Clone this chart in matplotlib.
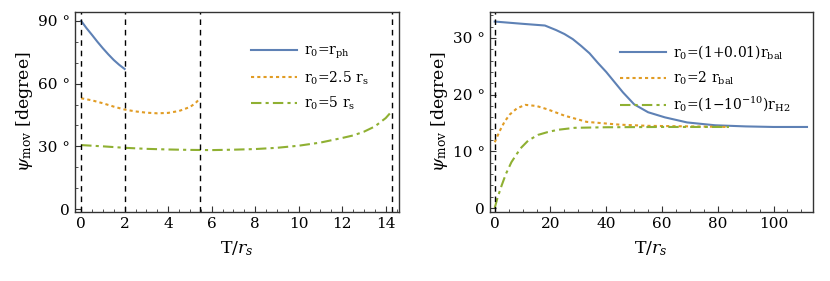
import numpy as np
import matplotlib
matplotlib.use("Agg")
import matplotlib.pyplot as plt
from matplotlib.ticker import MultipleLocator, FuncFormatter

plt.rcParams['font.family'] = ['DejaVu Serif']
plt.rcParams['mathtext.fontset'] = 'dejavuserif'

blue = '#5E81B5'
orange = '#E19C24'
green = '#8FB032'

# left panel data
x_ph = [0, 0.25, 0.5, 0.75, 1.0, 1.25, 1.5, 1.75, 2.0]
y_ph = [90, 86.5, 83.3, 80.0, 76.9, 74.0, 71.3, 69.0, 67.0]
x_25 = [0, 0.5, 1.0, 1.5, 2.0, 2.5, 3.0, 3.5, 4.0, 4.5, 5.0, 5.25, 5.47]
y_25 = [53.0, 52.0, 50.6, 49.0, 47.6, 46.7, 46.1, 45.8, 46.0, 46.9, 48.8, 50.6, 53.0]
x_5 = [0, 1, 2, 3, 4, 5, 6, 7, 8, 9, 10, 11, 12, 12.5, 13, 13.5, 14, 14.3]
y_5 = [30.6, 30.0, 29.3, 28.8, 28.5, 28.3, 28.2, 28.4, 28.7, 29.3, 30.3, 31.8, 34.0, 35.2, 37.0, 39.5, 43.5, 47.0]
vlines_left = [0, 2.0, 5.47, 14.3]

# right panel data
x_bal = [0, 5, 10, 18, 22, 25, 28, 31, 34, 37, 40, 43, 46, 50, 55, 61, 69, 79, 90, 100, 112]
y_bal = [32.9, 32.7, 32.5, 32.2, 31.4, 30.7, 29.8, 28.6, 27.3, 25.6, 24.0, 22.2, 20.4, 18.3, 16.9, 16.0, 15.1, 14.6, 14.4, 14.3, 14.3]
x_2bal = [0, 1.8, 3.5, 5.4, 8, 11, 15, 19, 25, 33, 45, 55, 70, 84]
y_2bal = [11.6, 13.6, 15.2, 16.5, 17.6, 18.2, 18.0, 17.4, 16.3, 15.2, 14.7, 14.5, 14.4, 14.3]
x_h2 = [0, 1, 2.5, 4, 6, 8, 9.6, 12, 15.5, 19, 22.6, 28.7, 40, 60, 84]
y_h2 = [0, 1.8, 4.0, 6.0, 8.1, 9.6, 10.7, 11.9, 12.9, 13.4, 13.8, 14.15, 14.25, 14.3, 14.3]
vlines_right = [0]

fig = plt.figure(figsize=(8.3, 2.81), dpi=100)
ax1 = fig.add_axes([0.0904, 0.2456, 0.390, 0.712])
ax2 = fig.add_axes([0.590, 0.2456, 0.389, 0.712])

deg = FuncFormatter(lambda v, p: f"{v:.0f} °" if v != 0 else "0")

def style(ax):
    for s in ax.spines.values():
        s.set_color('#333333')
        s.set_linewidth(1.0)
    ax.tick_params(which='both', direction='in', top=False, right=False,
                   labelsize=11, color='#333333')
    ax.tick_params(which='major', length=4)
    ax.tick_params(which='minor', length=2)
    ax.yaxis.set_major_formatter(deg)
    ax.set_xlabel(r'T/$r_s$', fontsize=12.5, labelpad=6)
    ax.set_ylabel(r'$\psi_{\rm mov}$ [degree]', fontsize=12.5, labelpad=2)

leg_kw = dict(loc='upper right', frameon=False, fontsize=10,
              handlelength=3.3, handletextpad=0.5, labelspacing=0.6)

ax1.plot(x_ph, y_ph, color=blue, lw=1.5, label=r'r$_0$=r$_{\rm ph}$')
ax1.plot(x_25, y_25, color=orange, lw=1.5, ls=(0, (1.5, 1.5)), label=r'r$_0$=2.5 r$_{\rm s}$')
ax1.plot(x_5, y_5, color=green, lw=1.5, ls=(0, (5, 2, 1.5, 2)), label=r'r$_0$=5 r$_{\rm s}$')
for v in vlines_left:
    ax1.axvline(v, color='black', lw=1.0, ls=(0, (4, 3.5)))
ax1.set_xlim(-0.28, 14.6)
ax1.set_ylim(-1.4, 94.3)
ax1.xaxis.set_major_locator(MultipleLocator(2))
ax1.xaxis.set_minor_locator(MultipleLocator(0.5))
ax1.yaxis.set_major_locator(MultipleLocator(30))
ax1.yaxis.set_minor_locator(MultipleLocator(10))
style(ax1)
ax1.legend(bbox_to_anchor=(0.945, 0.905), **leg_kw)

ax2.plot(x_bal, y_bal, color=blue, lw=1.5, label=r'r$_0$=(1+0.01)r$_{\rm bal}$')
ax2.plot(x_2bal, y_2bal, color=orange, lw=1.5, ls=(0, (1.5, 1.5)), label=r'r$_0$=2 r$_{\rm bal}$')
ax2.plot(x_h2, y_h2, color=green, lw=1.5, ls=(0, (5, 2, 1.5, 2)), label=r'r$_0$=(1$-$10$^{-10}$)r$_{\rm H2}$')
for v in vlines_right:
    ax2.axvline(v, color='black', lw=1.0, ls=(0, (4, 3.5)))
ax2.set_xlim(-1.8, 114)
ax2.set_ylim(-0.7, 34.6)
ax2.xaxis.set_major_locator(MultipleLocator(20))
ax2.xaxis.set_minor_locator(MultipleLocator(5))
ax2.yaxis.set_major_locator(MultipleLocator(10))
ax2.yaxis.set_minor_locator(MultipleLocator(2))
style(ax2)
ax2.legend(bbox_to_anchor=(0.97, 0.905), **leg_kw)

fig.savefig('out.png', dpi=100)
